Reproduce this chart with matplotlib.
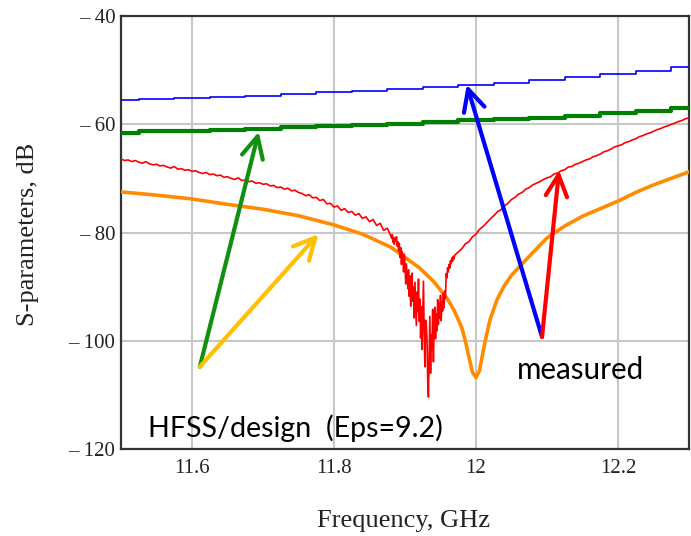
import numpy as np
import matplotlib
matplotlib.use("Agg")
import matplotlib.pyplot as plt
from matplotlib.ticker import FixedLocator, FixedFormatter

# ---------------- data ----------------
x_ticks = [11.6, 11.8, 12.0, 12.2]
x_tick_labels = ["11.6", "11.8", "12", "12.2"]
y_ticks = [-120, -100, -80, -60, -40]
y_tick_labels = ["\u2013 120", "\u2013 100", "\u2013 80", "\u2013 60", "\u2013 40"]

# HFSS designs (smooth, stepped)
step_freq = [11.50, 11.55, 11.60, 11.65, 11.70, 11.75, 11.80, 11.85, 11.90,
             11.95, 12.00, 12.05, 12.10, 12.15, 12.20, 12.25, 12.30]
blue_db = [-55.6, -55.4, -55.2, -55.0, -54.7, -54.4, -54.1, -53.8, -53.5,
           -53.2, -52.8, -52.3, -51.8, -51.3, -50.7, -50.1, -49.4]
green_db = [-61.6, -61.3, -61.2, -61.0, -60.8, -60.5, -60.3, -60.1, -59.9,
            -59.6, -59.3, -59.1, -58.8, -58.4, -58.0, -57.5, -57.0]

orange_freq = [11.50, 11.55, 11.60, 11.65, 11.70, 11.75, 11.80, 11.84, 11.88,
               11.92, 11.94, 11.96, 11.97, 11.98, 11.985, 11.99, 11.995, 12.00,
               12.005, 12.01, 12.015, 12.02, 12.03, 12.04, 12.05, 12.075,
               12.10, 12.125, 12.15, 12.175, 12.20, 12.225, 12.25, 12.275, 12.30]
orange_db = [-72.5, -73.1, -73.8, -74.8, -75.7, -76.9, -78.6, -80.3, -82.7,
             -86.5, -89.0, -92.3, -94.6, -97.6, -100.0, -103.0, -105.8, -106.8,
             -105.5, -102.0, -98.8, -96.0, -92.3, -89.8, -87.9, -84.4,
             -81.0, -78.8, -77.0, -75.6, -74.2, -72.6, -71.2, -70.0, -68.8]

# measured (red), three segments with different sampling
red_a_range = (11.500, 11.880)
red_a_db = [-66.4, -66.7, -66.6, -66.9, -66.7, -67.0, -67.2, -66.9, -67.3, -67.5,
            -67.4, -67.7, -67.6, -67.9, -68.1, -67.8, -68.3, -68.2, -68.5, -68.4,
            -68.7, -68.6, -68.9, -69.1, -68.9, -69.3, -69.2, -69.5, -69.4, -69.8,
            -69.7, -70.0, -70.2, -69.9, -70.4, -70.3, -70.6, -70.5, -70.9, -70.8,
            -71.1, -71.0, -71.4, -71.3, -71.7, -71.6, -72.0, -71.8, -72.3, -72.2,
            -72.6, -72.8, -73.2, -73.0, -73.6, -73.5, -74.1, -73.9, -74.7, -74.6,
            -75.3, -75.1, -75.9, -75.6, -76.3, -76.1, -76.8, -76.5, -77.4, -77.1,
            -78.0, -77.6, -78.7, -78.3, -79.6, -79.2, -80.6]
red_b_range = (11.881, 11.969)
red_b_db = [-81.0, -80.4, -81.8, -80.9, -82.2, -81.1, -81.6, -80.8, -82.5, -81.7,
            -83.4, -82.0, -84.6, -82.8, -85.9, -83.5, -84.2, -87.3, -84.0, -86.1,
            -89.5, -85.8, -88.2, -90.4, -86.9, -91.8, -88.0, -93.6, -89.4, -87.5,
            -92.7, -90.1, -95.8, -89.2, -93.4, -97.2, -91.0, -94.6, -88.6, -96.4,
            -92.3, -99.5, -93.7, -101.6, -95.0, -89.0, -98.4, -104.8, -96.2, -97.1,
            -99.7, -107.5, -110.4, -103.3, -95.5, -106.0, -98.9, -101.8, -94.2, -103.9,
            -97.3, -93.8, -99.6, -95.0, -98.2, -92.4, -97.0, -93.1, -95.9, -91.6,
            -96.3, -92.8, -94.5, -91.2, -93.9, -90.8, -92.1, -87.6, -88.4, -86.5,
            -87.3, -85.9, -86.6, -85.2, -85.8, -84.7, -85.3, -84.4, -84.9]
red_c_range = (11.970, 12.300)
red_c_db = [-84.2, -83.6, -83.0, -82.1, -81.7, -80.8, -80.3, -79.4, -78.9, -78.2,
            -77.5, -76.9, -76.2, -75.8, -75.1, -74.6, -73.9, -73.5, -72.9, -72.6,
            -72.0, -71.7, -71.2, -70.9, -70.6, -70.2, -69.9, -69.7, -69.2, -69.0,
            -68.6, -68.4, -67.9, -67.8, -67.4, -67.2, -66.9, -66.6, -66.4, -66.0,
            -65.8, -65.5, -65.1, -64.9, -64.6, -64.2, -64.0, -63.8, -63.4, -63.2,
            -62.9, -62.7, -62.3, -62.1, -61.8, -61.6, -61.3, -61.0, -60.8, -60.5,
            -60.3, -60.0, -59.8, -59.5, -59.3, -59.0, -58.8]

# annotation arrows: (tail x, tail y, head x, head y)
arrow_green = (11.611, -104.8, 11.694, -61.4)
arrow_yellow = (11.611, -104.8, 11.778, -80.3)
arrow_blue = (12.093, -99.3, 11.987, -52.7)
arrow_red = (12.093, -99.3, 12.117, -68.5)

# ---------------- plot ----------------
fig = plt.figure(figsize=(6.91, 5.36), dpi=100)
ax = fig.add_axes([121 / 691, (536 - 449) / 536, (689 - 121) / 691, (449 - 16) / 536])

red_freq = np.concatenate([
    np.linspace(red_a_range[0], red_a_range[1], len(red_a_db)),
    np.linspace(red_b_range[0], red_b_range[1], len(red_b_db)),
    np.linspace(red_c_range[0], red_c_range[1], len(red_c_db)),
])
red_db = np.concatenate([red_a_db, red_b_db, red_c_db])

ax.plot(step_freq, blue_db, color="#0000ff", lw=1.2, drawstyle="steps-mid", zorder=3)
ax.plot(step_freq, green_db, color="#008000", lw=3.0, drawstyle="steps-mid", zorder=3)
ax.plot(orange_freq, orange_db, color="#ff8c00", lw=2.6, zorder=3)
ax.plot(red_freq, red_db, color="#ff0000", lw=1.2, zorder=4)

def arrow(a, color):
    ax.annotate("", xy=(a[2], a[3]), xytext=(a[0], a[1]), xycoords="data",
                arrowprops=dict(arrowstyle="->,head_length=0.7,head_width=0.35",
                                color=color, lw=3.0, mutation_scale=22,
                                shrinkA=0, shrinkB=0), zorder=5)

arrow(arrow_green, "#109010")
arrow(arrow_yellow, "#ffc000")
arrow(arrow_blue, "#0000ff")
arrow(arrow_red, "#ff0000")

ax.text(11.538, -117.7, "HFSS/design  (Eps=9.2)", fontsize=20.6, family="Lato",
        va="baseline", ha="left", color="black", zorder=6)
ax.text(12.057, -107.1, "measured", fontsize=21.3, family="Lato",
        va="baseline", ha="left", color="black", zorder=6)

ax.set_xlim(11.5, 12.3)
ax.set_ylim(-120, -40)
ax.xaxis.set_major_locator(FixedLocator(x_ticks))
ax.xaxis.set_major_formatter(FixedFormatter(x_tick_labels))
ax.yaxis.set_major_locator(FixedLocator(y_ticks))
ax.yaxis.set_major_formatter(FixedFormatter(y_tick_labels))
ax.grid(True, color="#c8c8c8", lw=1.5, zorder=0)
ax.set_axisbelow(True)
ax.tick_params(length=0, labelsize=15, colors="#222222", pad=4)
ax.tick_params(axis="x", pad=7)
for lab in ax.get_xticklabels() + ax.get_yticklabels():
    lab.set_family("Liberation Serif")
for s in ax.spines.values():
    s.set_color("#333333")
    s.set_linewidth(1.6)

fig.text(28 / 691, 1 - 234 / 536, "S-parameters, dB", rotation=90, ha="center", va="center",
         fontsize=19, family="Liberation Serif", color="#222222")
fig.text(404 / 691, 1 - 521 / 536, "Frequency, GHz", ha="center", va="center",
         fontsize=19, family="Liberation Serif", color="#222222")

fig.savefig("out.png", dpi=100)
